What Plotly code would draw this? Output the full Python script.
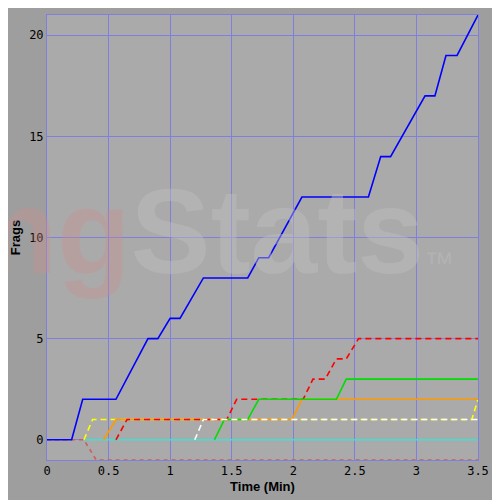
import plotly.graph_objects as go

blue_x = [0, 0.2, 0.29, 0.56, 0.82, 0.9, 1.0, 1.08, 1.27, 1.63, 1.72, 1.8, 2.07, 2.61, 2.71, 2.79, 3.07, 3.15, 3.24, 3.33, 3.5]
blue_y = [0, 0, 2, 2, 5, 5, 6, 6, 8, 8, 9, 9, 12, 12, 14, 14, 17, 17, 19, 19, 21]
pink_x = [0, 0.3, 0.4, 3.5]
pink_y = [0, 0, -1, -1]
cyan_x = [0.3, 3.5]
cyan_y = [0, 0]
yellow_x = [0.3, 0.37, 3.45, 3.5]
yellow_y = [0, 1, 1, 2]
orange_x = [0.46, 0.56, 1.99, 2.07, 3.5]
orange_y = [0, 1, 1, 2, 2]
red_x = [0.56, 0.65, 1.46, 1.54, 2.08, 2.16, 2.26, 2.35, 2.43, 2.53, 3.5]
red_y = [0, 1, 1, 2, 2, 3, 3, 4, 4, 5, 5]
white_x = [1.2, 1.27, 3.5]
white_y = [0, 1, 1]
green_x = [1.36, 1.44, 1.63, 1.72, 2.35, 2.43, 3.5]
green_y = [0, 1, 1, 2, 2, 3, 3]

fig = go.Figure()
series = [
    (pink_x, pink_y, "#cd5c5c", "4px,4px"),
    (cyan_x, cyan_y, "#40e0d0", "solid"),
    (yellow_x, yellow_y, "#ffff00", "6px,4px"),
    (orange_x, orange_y, "#ff9900", "solid"),
    (red_x, red_y, "#ff0000", "6px,4px"),
    (green_x, green_y, "#00dd00", "solid"),
    (white_x, white_y, "#ffffff", "6px,4px"),
    (blue_x, blue_y, "#0000ff", "solid"),
]
for x, y, c, d in series:
    fig.add_trace(go.Scatter(x=x, y=y, mode="lines", line=dict(color=c, width=1.6, dash=d),
                             showlegend=False))

fig.add_annotation(text="<b><span style='color:rgba(205,140,140,0.35)'>ng</span>"
                        "<span style='color:rgba(190,190,190,0.45)'>Stats</span></b>"
                        "<span style='color:rgba(190,190,190,0.45);font-size:30px'>™</span>",
                   x=0.4, y=0.67, xref="paper", yref="paper", showarrow=False,
                   font=dict(size=120, family="Liberation Sans"))

fig.update_layout(
    width=500, height=500,
    margin=dict(l=39, r=30, t=7, b=48),
    paper_bgcolor="#9e9e9e", plot_bgcolor="#aaaaaa",
    font=dict(family="DejaVu Sans Mono", size=12, color="black"),
    xaxis=dict(range=[0, 3.5], dtick=0.5, gridcolor="#7f7fe0", zeroline=False,
               showline=True, linecolor="#7f7fe0", mirror=True, ticklen=0,
               title=dict(text="<b>Time (Min)</b>", standoff=4,
                          font=dict(family="Liberation Sans", size=13))),
    yaxis=dict(range=[-1, 21], tickvals=[0, 5, 10, 15, 20], gridcolor="#7f7fe0", zeroline=False,
               showline=True, linecolor="#7f7fe0", mirror=True, ticklen=0,
               title=dict(text="<b>Frags</b>", standoff=6,
                          font=dict(family="Liberation Sans", size=13))),
)
fig.write_html("out.html")
